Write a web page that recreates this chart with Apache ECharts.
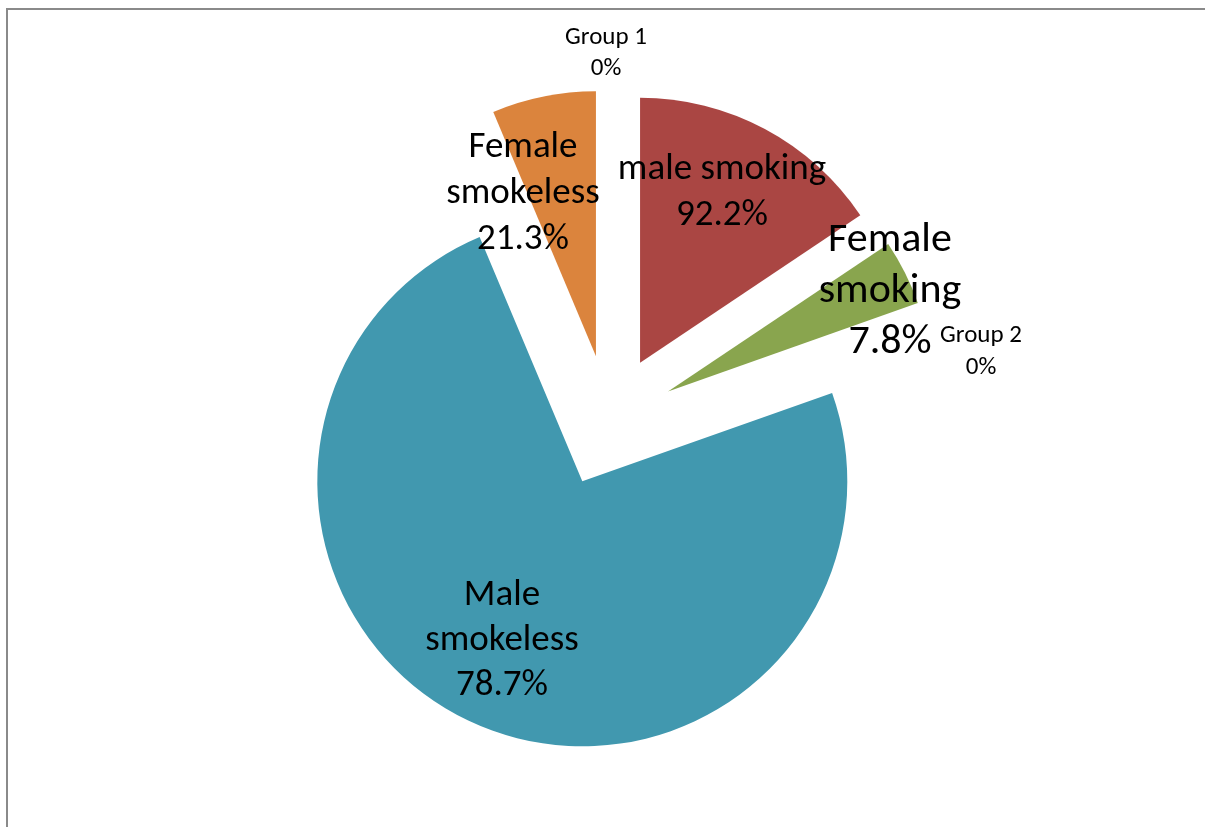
<!DOCTYPE html>
<html>
<head>
<meta charset="utf-8">
<script src="https://cdn.jsdelivr.net/npm/echarts@6/dist/echarts.min.js"></script>
<style>
html,body{margin:0;padding:0;background:#fff;}
#chart{width:1205px;height:827px;}
</style>
</head>
<body>
<div id="chart"></div>
<script>
// Data (slice sizes)
const categories = ['Group 1', 'male smoking', 'Female smoking', 'Group 2', 'Male smokeless', 'Female smokeless'];
const values = [0, 56.2, 14.3, 0, 266.7, 22.8];
const labelNames = ['Group 1', 'male smoking', 'Female\nsmoking', 'Group 2', 'Male\nsmokeless', 'Female\nsmokeless'];
const percentLabels = ['0%', '92.2%', '7.8%', '0%', '78.7%', '21.3%'];

const colors = ['#4572A7', '#AA4643', '#89A54E', '#80699B', '#4198AF', '#DB843D'];
const font = 'Carlito, Lato, "Liberation Sans", sans-serif';
// label styling / placement (not data)
const labelSizes = [25, 37, 42, 25, 37, 37];
const labelLineHeights = [31, 46, 51, 32, 45, 46];
const labelAnchors = [[606, 53], [722, 193], [890, 291], [981, 352], [502, 641], [523, 194]];

const chart = echarts.init(document.getElementById('chart'), null, {renderer: 'canvas'});

const labelGraphics = categories.map((c, i) => ({
  type: 'text', silent: true, z: 100,
  x: labelAnchors[i][0], y: labelAnchors[i][1],
  style: {
    text: labelNames[i] + '\n' + percentLabels[i],
    fill: '#000',
    fontFamily: font,
    fontSize: labelSizes[i],
    lineHeight: labelLineHeights[i],
    align: 'center',
    verticalAlign: 'middle'
  }
}));

chart.setOption({
  animation: false,
  backgroundColor: '#ffffff',
  graphic: [{
    type: 'rect', silent: true,
    shape: {x: 7, y: 9, width: 1400, height: 1000},
    style: {fill: 'none', stroke: '#8a8a8a', lineWidth: 2}
  }].concat(labelGraphics),
  series: [{
    type: 'pie',
    center: [609, 421],
    radius: 265,
    startAngle: 90,
    clockwise: true,
    selectedMode: 'multiple',
    selectedOffset: 66,
    avoidLabelOverlap: false,
    emphasis: {disabled: true},
    itemStyle: {borderWidth: 0},
    label: {show: false},
    labelLine: {show: false},
    data: categories.map((c, i) => ({
      name: c,
      value: values[i],
      selected: true,
      itemStyle: {color: colors[i]},
      select: {itemStyle: {color: colors[i]}}
    }))
  }]
});
</script>
</body>
</html>
